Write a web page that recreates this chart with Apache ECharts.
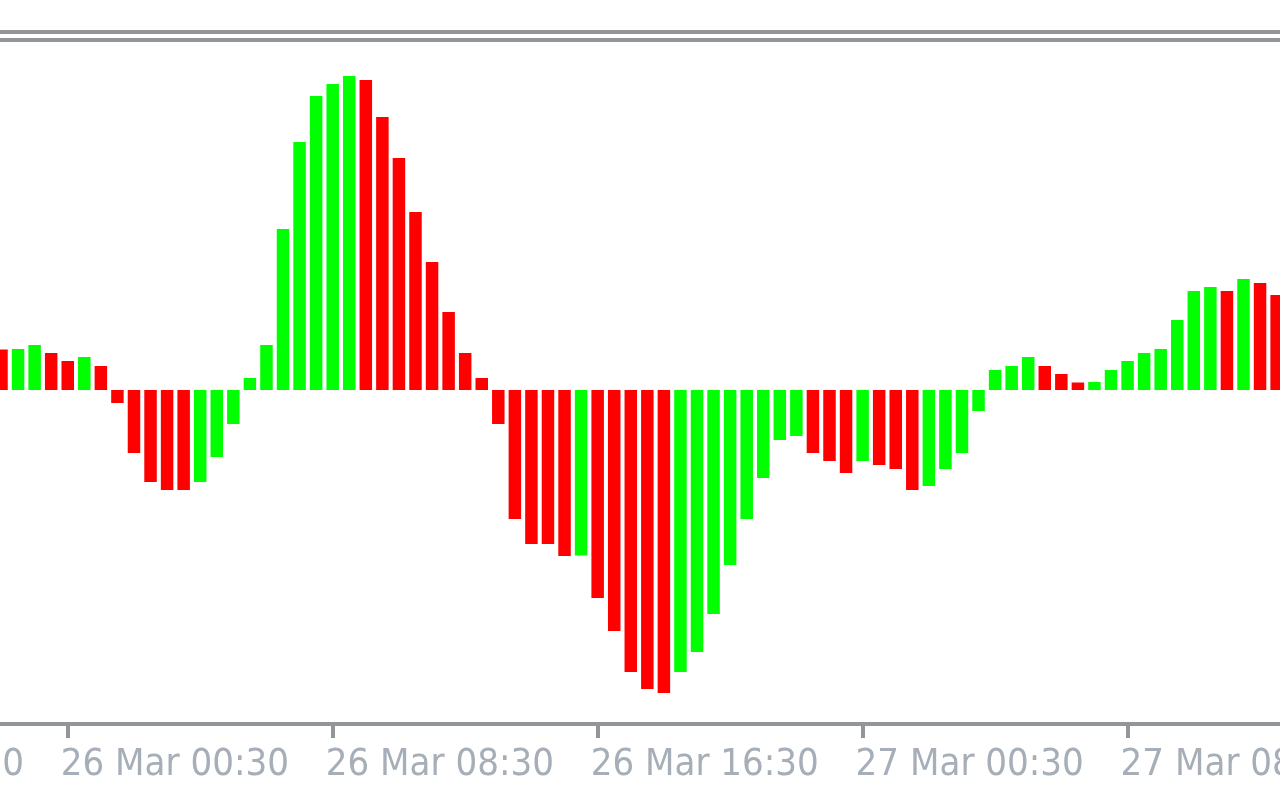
<!DOCTYPE html>
<html>
<head>
<meta charset="utf-8">
<style>
  html, body { margin: 0; padding: 0; background: #ffffff; }
  #chart { width: 1280px; height: 800px; }
</style>
<script src="https://cdn.jsdelivr.net/npm/echarts@6/dist/echarts.min.js"></script>
</head>
<body>
<div id="chart"></div>
<script>
// Oscillator histogram values (30-minute bars, 25 Mar 22:30 .. 27 Mar 13:00)
const values = [
  40.5, 41, 45, 37, 29, 33, 24, -13, -63, -92,
  -100, -100, -92, -67, -34, 12, 45, 161, 248, 294,
  306, 314, 310, 273, 232, 178, 128, 78, 37, 12,
  -34, -129, -154, -154, -166, -165.5, -208, -241, -282, -299,
  -303, -282, -262, -224, -175, -129, -88, -50, -46, -63,
  -71, -83, -71, -75, -79, -100, -96, -79, -63, -21,
  20, 24, 33, 24, 16, 7.5, 8, 20, 29, 37,
  41, 70, 99, 103, 99, 111, 107, 95
];
// leading slots before the first visible bar (off-screen, only carry the first label)
const leadingSlots = 12;
const startTime = { day: 25, hour: 16, minute: 30 }; // time of first (hidden) slot
const months = 'Mar';
const tickLabels = ['25 Mar 16:30', '26 Mar 00:30', '26 Mar 08:30', '26 Mar 16:30', '27 Mar 00:30', '27 Mar 08:30'];
const tickEvery = 16;

const pad2 = n => (n < 10 ? '0' : '') + n;
const categories = [];
for (let i = 0; i < leadingSlots + values.length; i++) {
  const total = startTime.hour * 60 + startTime.minute + i * 30;
  const day = startTime.day + Math.floor(total / 1440);
  const mins = total % 1440;
  categories.push(day + ' ' + months + ' ' + pad2(Math.floor(mins / 60)) + ':' + pad2(mins % 60));
}
const seriesData = [];
for (let i = 0; i < leadingSlots; i++) seriesData.push('-');
values.forEach((v, i) => {
  const up = i > 0 && v > values[i - 1];
  seriesData.push({ value: v, itemStyle: { color: up ? '#00ff00' : '#ff0000' } });
});

const slot = 16.56;
const gridLeft = 1.5 - slot / 2 - leadingSlots * slot;
const gridWidth = categories.length * slot;
const lineColor = '#939699';

const chart = echarts.init(document.getElementById('chart'));
chart.setOption({
  animation: false,
  backgroundColor: '#ffffff',
  grid: { left: gridLeft, top: 40, width: gridWidth, height: 684, containLabel: false, outerBoundsMode: 'none' },
  xAxis: [
    {
      type: 'category', data: categories, position: 'bottom',
      axisLine: { onZero: false, lineStyle: { color: lineColor, width: 4 } },
      axisTick: { show: true, alignWithLabel: true, length: 14, interval: (idx) => idx % tickEvery === 0,
                  lineStyle: { color: lineColor, width: 4 } },
      axisLabel: {
        interval: (idx) => idx % tickEvery === 0,
        formatter: (val, idx) => tickLabels[Math.round(idx / tickEvery)] || val,
        align: 'left', margin: 22, color: '#a6aeb8',
        fontFamily: "'Liberation Sans Narrow', 'DejaVu Sans Condensed', 'Liberation Sans', sans-serif",
        fontSize: 38, padding: [0, 0, 0, -7], hideOverlap: false
      },
      splitLine: { show: false }
    },
    { type: 'category', data: categories, position: 'top', offset: 0,
      axisLine: { onZero: false, lineStyle: { color: lineColor, width: 4 } },
      axisTick: { show: false }, axisLabel: { show: false } },
    { type: 'category', data: categories, position: 'top', offset: 8,
      axisLine: { onZero: false, lineStyle: { color: lineColor, width: 4 } },
      axisTick: { show: false }, axisLabel: { show: false } }
  ],
  yAxis: { type: 'value', min: -334, max: 350, show: false, splitLine: { show: false } },
  series: [{
    type: 'bar', xAxisIndex: 0, data: seriesData, barWidth: 12.5, barGap: '0%'
  }]
});
</script>
</body>
</html>
